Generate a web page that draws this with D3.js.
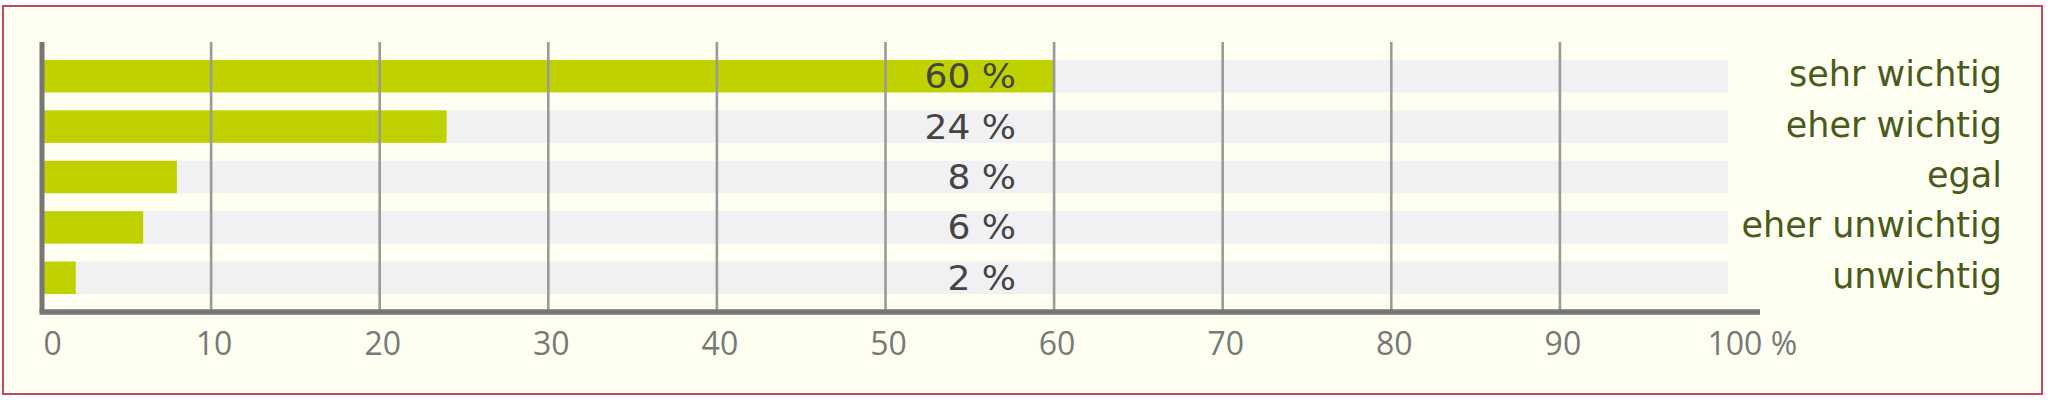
<!DOCTYPE html>
<html>
<head>
<meta charset="utf-8">
<script src="https://cdn.jsdelivr.net/npm/d3@7"></script>
<style>
  html, body { margin: 0; padding: 0; background: #ffffff; }
  svg { display: block; }
</style>
</head>
<body>
<script>
const categories = ["sehr wichtig", "eher wichtig", "egal", "eher unwichtig", "unwichtig"];
const values = [60, 24, 8, 6, 2];
const tickValues = [0, 10, 20, 30, 40, 50, 60, 70, 80, 90, 100];
const gridValues = [10, 20, 30, 40, 50, 60, 70, 80, 90];
const domainMax = 100;

const W = 2048, H = 400;
const svg = d3.select("body").append("svg").attr("width", W).attr("height", H);

// frame
svg.append("rect").attr("x", 3).attr("y", 6).attr("width", 2039).attr("height", 388)
  .attr("fill", "#fefef1").attr("stroke", "#c4485f").attr("stroke-width", 2);

const plotTop = 42, plotBottom = 312;
const x = d3.scaleLinear().domain([0, domainMax]).range([42, 1728]);
const y = d3.scaleBand().domain(categories).range([plotTop, plotBottom])
  .paddingInner(0.356).paddingOuter(0.356);

// background bars
svg.append("g").selectAll("rect").data(categories).join("rect")
  .attr("x", x(0)).attr("y", d => y(d))
  .attr("width", x(domainMax) - x(0)).attr("height", y.bandwidth())
  .attr("fill", "#f1f0f3");

// value bars
svg.append("g").selectAll("rect").data(values).join("rect")
  .attr("x", x(0)).attr("y", (d, i) => y(categories[i]))
  .attr("width", d => x(d) - x(0)).attr("height", y.bandwidth())
  .attr("fill", "#bfd200");

// grid lines (over bars)
const grid = svg.append("g").attr("transform", `translate(0,${plotBottom})`)
  .call(d3.axisBottom(x).tickValues(gridValues).tickSize(-(plotBottom - plotTop)).tickFormat(""));
grid.select(".domain").remove();
grid.selectAll("line").attr("stroke", "#9a9a9a").attr("stroke-width", 2.6);

// value labels
svg.append("g").selectAll("text").data(values).join("text")
  .attr("transform", (d, i) => `translate(1016,${y(categories[i]) + y.bandwidth() / 2 + 12}) scale(1.06,1)`)
  .attr("text-anchor", "end")
  .attr("font-family", "DejaVu Sans")
  .attr("font-size", 34)
  .attr("fill", "#444444")
  .text(d => d + " %");

// category labels
svg.append("g").selectAll("text").data(categories).join("text")
  .attr("x", 2002).attr("y", d => y(d) + y.bandwidth() / 2 + 10)
  .attr("text-anchor", "end")
  .attr("font-family", "DejaVu Sans")
  .attr("font-size", 35)
  .attr("fill", "#4a5a1c")
  .text(d => d);

// x axis tick labels
const xAxis = svg.append("g").attr("transform", `translate(0,${plotBottom})`)
  .call(d3.axisBottom(x).tickValues(tickValues).tickSize(0).tickPadding(0)
    .tickFormat(d => d === domainMax ? d + " %" : d));
xAxis.select(".domain").remove();
xAxis.selectAll("text")
  .attr("font-family", "Open Sans")
  .attr("font-size", 32)
  .attr("fill", "#787878")
  .attr("y", 43).attr("dy", 0)
  .attr("dx", 3)
  .each(function(d) {
    const t = d3.select(this);
    if (d === 0) t.attr("text-anchor", "start").attr("dx", 1);
    if (d === domainMax) t.attr("text-anchor", "start").attr("dx", -21);
  });

// axis lines
svg.append("line").attr("x1", x(0) - 2.5).attr("x2", x(domainMax) + 32)
  .attr("y1", plotBottom).attr("y2", plotBottom)
  .attr("stroke", "#767676").attr("stroke-width", 5.5);
svg.append("line").attr("x1", x(0)).attr("x2", x(0))
  .attr("y1", plotTop).attr("y2", plotBottom)
  .attr("stroke", "#767676").attr("stroke-width", 5);
</script>
</body>
</html>
